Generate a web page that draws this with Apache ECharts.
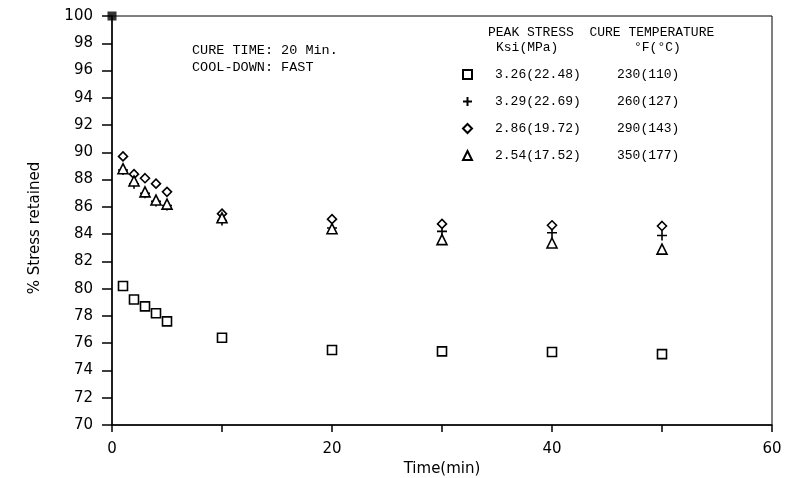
<!DOCTYPE html>
<html>
<head>
<meta charset="utf-8">
<script src="https://cdn.jsdelivr.net/npm/echarts@6/dist/echarts.min.js"></script>
<style>html,body{margin:0;padding:0;background:#fff}#c{width:793px;height:478px}</style>
</head>
<body>
<div id="c"></div>
<script>
var times = [1, 2, 3, 4, 5, 10, 20, 30, 40, 50];
var cure230 = [80.2, 79.2, 78.7, 78.2, 77.6, 76.4, 75.5, 75.4, 75.35, 75.2];
var cure260 = [88.7, 87.7, 87.0, 86.4, 86.1, 85.0, 84.45, 84.2, 84.1, 83.9];
var cure290 = [89.7, 88.4, 88.1, 87.7, 87.1, 85.5, 85.1, 84.75, 84.65, 84.6];
var cure350 = [88.8, 87.9, 87.1, 86.5, 86.2, 85.2, 84.4, 83.6, 83.35, 82.9];
var cornerPoint = [[0, 100]];
var seriesNames = ['230', '260', '290', '350'];
var peakStress = ['3.26(22.48)', '3.29(22.69)', '2.86(19.72)', '2.54(17.52)'];
var cureTemp = ['230(110)', '260(127)', '290(143)', '350(177)'];
var yTicks = [70, 72, 74, 76, 78, 80, 82, 84, 86, 88, 90, 92, 94, 96, 98, 100];
var xLabelTicks = [0, 20, 40, 60];

var plusPath = 'path://M5,0L5,10M0,5L10,5';
var mono = '"Liberation Mono", "DejaVu Sans Mono", monospace';
var sans = '"DejaVu Sans", sans-serif';

function pts(vals) { return times.map(function (t, i) { return [t, vals[i]]; }); }

var symbolDefs = [
  { data: cure230, symbol: 'rect', size: 9 },
  { data: cure260, symbol: plusPath, size: 10 },
  { data: cure290, symbol: 'diamond', size: 9 },
  { data: cure350, symbol: 'triangle', size: 10 }
];

var series = symbolDefs.map(function (d, i) {
  return {
    name: seriesNames[i],
    type: 'scatter',
    data: pts(d.data),
    symbol: d.symbol,
    symbolSize: d.size,
    itemStyle: { color: '#fff', borderColor: '#000', borderWidth: 1.6, opacity: 1 },
    emphasis: { disabled: true },
    z: 3
  };
});
series.push({
  name: 'corner',
  type: 'scatter',
  data: cornerPoint,
  symbol: 'rect',
  symbolSize: 9,
  itemStyle: { color: '#000' },
  z: 4
});

var chart = echarts.init(document.getElementById('c'));
chart.setOption({
  animation: false,
  backgroundColor: '#fff',
  grid: { left: 112, right: 21, top: 16, bottom: 53, containLabel: false, outerBoundsMode: 'none', show: true, borderColor: '#000', borderWidth: 1 },
  xAxis: {
    type: 'value', min: 0, max: 60, interval: 10,
    name: 'Time(min)', nameLocation: 'middle', nameGap: 37,
    nameTextStyle: { fontFamily: sans, fontSize: 15, color: '#000' },
    axisLine: { show: true, onZero: false, lineStyle: { color: '#000', width: 1.5 } },
    axisTick: { show: true, inside: false, length: 7, lineStyle: { color: '#000', width: 1.5 } },
    axisLabel: {
      fontFamily: sans, fontSize: 15, color: '#000', margin: 17,
      formatter: function (v) { return xLabelTicks.indexOf(v) >= 0 ? String(v) : ''; }
    },
    splitLine: { show: false }
  },
  yAxis: {
    type: 'value', min: 70, max: 100, interval: 2,
    axisLine: { show: true, onZero: false, lineStyle: { color: '#000', width: 1.5 } },
    axisTick: { show: true, inside: false, length: 10, lineStyle: { color: '#000', width: 1.5 } },
    axisLabel: {
      fontFamily: sans, fontSize: 15, color: '#000', margin: 19,
      formatter: function (v) { return yTicks.indexOf(v) >= 0 ? String(v) : ''; }
    },
    splitLine: { show: false }
  },
  legend: {
    data: seriesNames,
    orient: 'vertical',
    left: 457, top: 63,
    itemWidth: 9, itemHeight: 9,
    itemGap: 14,
    selectedMode: false,
    textStyle: {
      fontFamily: mono, fontSize: 13, color: '#000',
      rich: {
        a: { fontFamily: mono, fontSize: 13, color: '#000', width: 122, padding: [0, 0, 0, 18] },
        b: { fontFamily: mono, fontSize: 13, color: '#000' }
      }
    },
    formatter: function (name) {
      var i = seriesNames.indexOf(name);
      return '{a|' + peakStress[i] + '}{b|' + cureTemp[i] + '}';
    }
  },
  graphic: [
    { type: 'text', x: 35, y: 228, rotation: Math.PI / 2, style: { text: '% Stress retained', font: '15px ' + sans, fill: '#000', align: 'center', verticalAlign: 'middle' } },
    { type: 'text', left: 192, top: 43, style: { text: 'CURE TIME: 20 Min.', font: '13.5px ' + mono, fill: '#000' } },
    { type: 'text', left: 192, top: 60, style: { text: 'COOL-DOWN: FAST', font: '13.5px ' + mono, fill: '#000' } },
    { type: 'text', left: 488, top: 26, style: { text: 'PEAK STRESS  CURE TEMPERATURE', font: '13px ' + mono, fill: '#000' } },
    { type: 'text', left: 496, top: 41, style: { text: 'Ksi(MPa)', font: '13px ' + mono, fill: '#000' } },
    { type: 'text', left: 634, top: 41, style: { text: '\u00B0F(\u00B0C)', font: '13px ' + mono, fill: '#000' } }
  ],
  series: series
});
</script>
</body>
</html>
